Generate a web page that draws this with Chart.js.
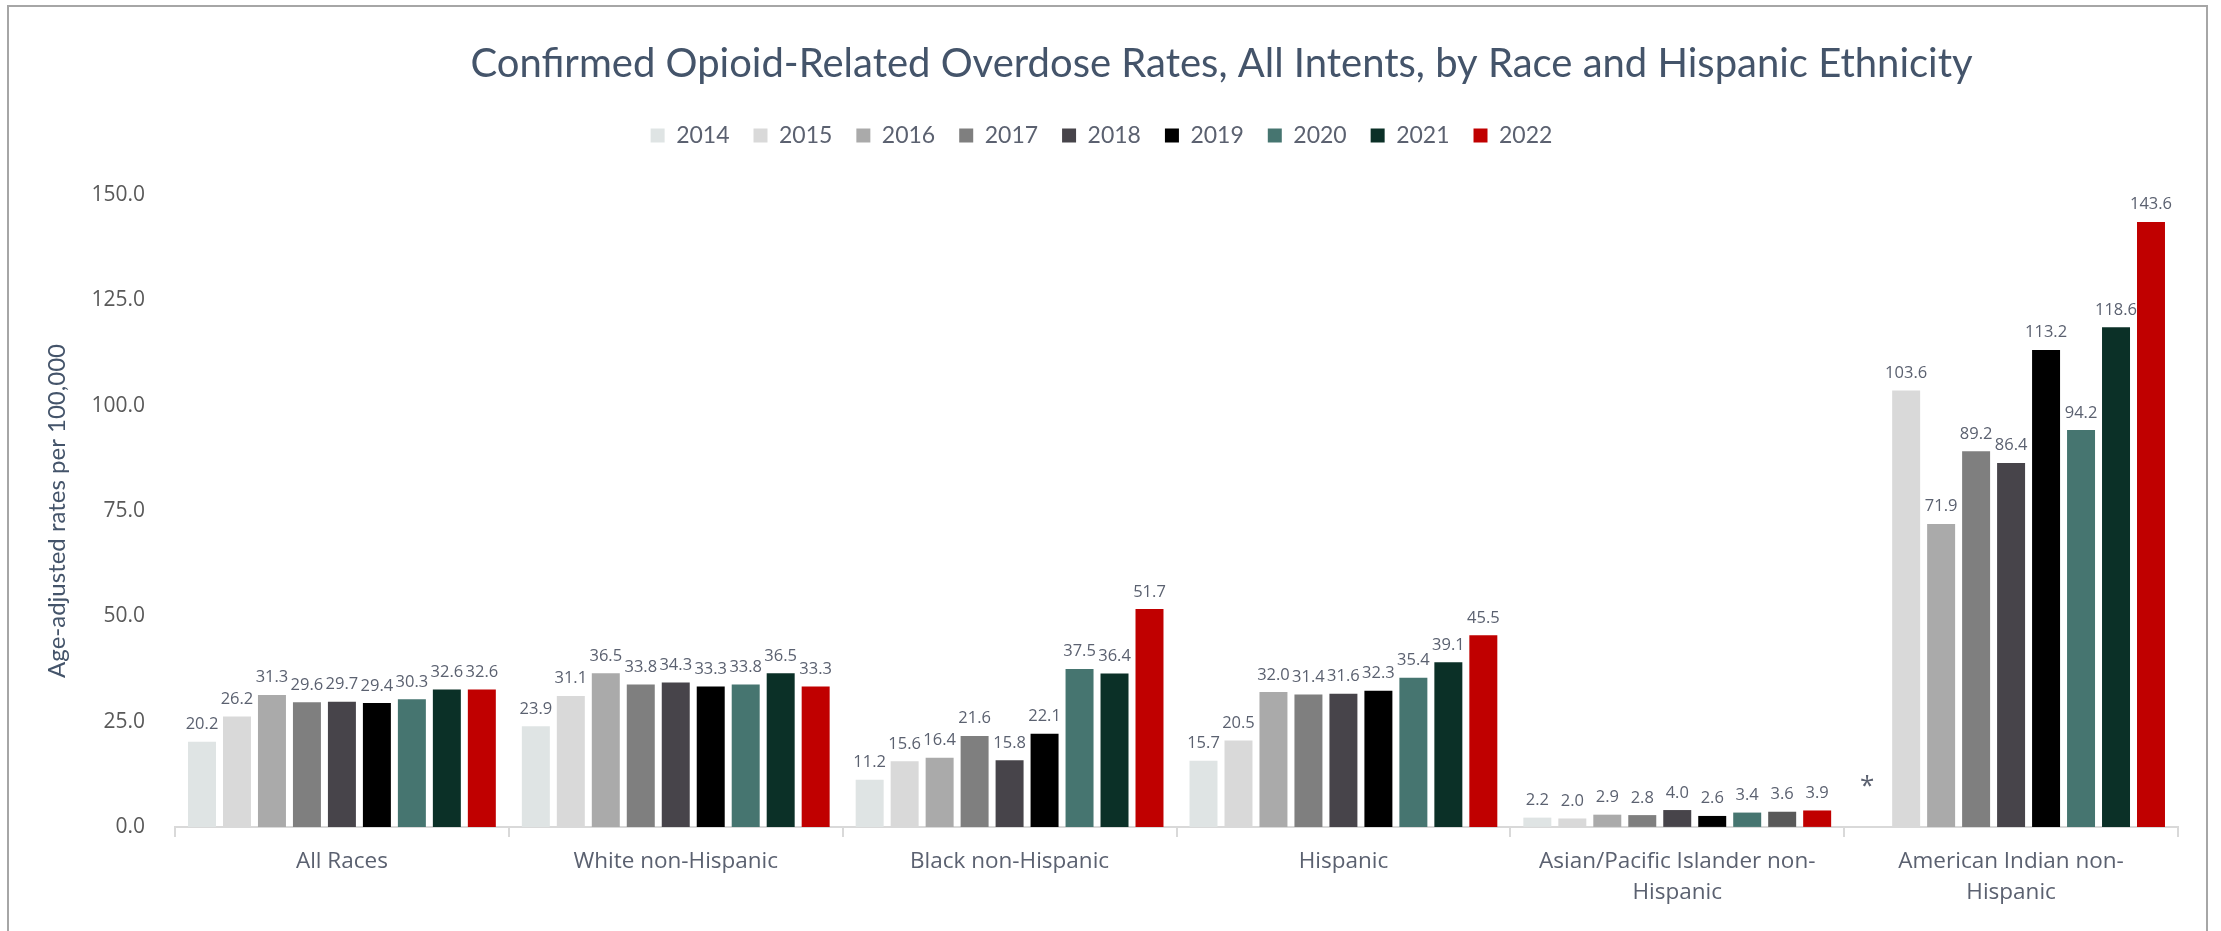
<!DOCTYPE html>
<html>
<head>
<meta charset="utf-8">
<script src="https://cdn.jsdelivr.net/npm/chart.js@4/dist/chart.umd.min.js"></script>
<style>
  html, body { margin: 0; padding: 0; background: #fff; overflow: hidden; }
  #frame {
    position: absolute; left: 7px; top: 5px; width: 2201px; height: 960px;
    border: 2px solid #a6a6a6; box-sizing: border-box;
  }
  #wrap { position: absolute; left: 0; top: 0; width: 2221px; height: 931px; }
</style>
</head>
<body>
<div id="frame"></div>
<div id="wrap"><canvas id="chartRates"></canvas></div>
<script>
// categorias (grupos de raça / etnia)
const categories = [
    'All Races',
    'White non-Hispanic',
    'Black non-Hispanic',
    'Hispanic',
    ['Asian/Pacific Islander non-', 'Hispanic'],
    ['American Indian non-', 'Hispanic']
];
const years = ['2014', '2015', '2016', '2017', '2018', '2019', '2020', '2021', '2022'];

// taxas por ano (uma entrada por categoria); null = dado suprimido (*)
const rates2014 = [20.2, 23.9, 11.2, 15.7, 2.2, null];
const rates2015 = [26.2, 31.1, 15.6, 20.5, 2.0, 103.6];
const rates2016 = [31.3, 36.5, 16.4, 32.0, 2.9, 71.9];
const rates2017 = [29.6, 33.8, 21.6, 31.4, 2.8, 89.2];
const rates2018 = [29.7, 34.3, 15.8, 31.6, 4.0, 86.4];
const rates2019 = [29.4, 33.3, 22.1, 32.3, 2.6, 113.2];
const rates2020 = [30.3, 33.8, 37.5, 35.4, 3.4, 94.2];
const rates2021 = [32.6, 36.5, 36.4, 39.1, 3.6, 118.6];
const rates2022 = [32.6, 33.3, 51.7, 45.5, 3.9, 143.6];

const yTicks = [0, 25, 50, 75, 100, 125, 150];

const yearColors = ['#dfe4e4', '#d9d9d9', '#aaaaaa', '#7f7f7f', '#47444a', '#000000', '#467570', '#595959', '#c00000'];
const darkGreen = '#0b3027'; // barras de 2021 (exceto Asian/PI)

const allRates = [rates2014, rates2015, rates2016, rates2017, rates2018, rates2019, rates2020, rates2021, rates2022];

const TEXT_GRAY = '#5b6170';
const TITLE_BLUE = '#44546a';

// titulo desenhado a mão (fica deslocado do centro como no original)
const titlePlugin = {
    id: 'titleOffset',
    afterDraw(chart) {
        const ctx = chart.ctx;
        ctx.save();
        ctx.font = "40px Lato, sans-serif";
        ctx.fillStyle = TITLE_BLUE;
        ctx.textAlign = 'center';
        ctx.textBaseline = 'middle';
        ctx.fillText('Confirmed Opioid-Related Overdose Rates, All Intents, by Race and Hispanic Ethnicity', chart.width * 0.55, 64);
        ctx.restore();
    }
};

// espaço extra abaixo da legenda
const legendGap = {
    id: 'legendGap',
    beforeInit(chart) {
        const fit = chart.legend.fit;
        chart.legend.fit = function () {
            fit.bind(chart.legend)();
            this.height += 38;
        };
    }
};

// rótulos de valor acima das barras
const valueLabels = {
    id: 'valueLabels',
    afterDatasetsDraw(chart) {
        const ctx = chart.ctx;
        const yScale = chart.scales.y;
        ctx.save();
        ctx.fillStyle = TEXT_GRAY;
        ctx.textAlign = 'center';
        chart.data.datasets.forEach(function (ds, di) {
            const meta = chart.getDatasetMeta(di);
            meta.data.forEach(function (bar, i) {
                const v = ds.data[i];
                if (v === null) {
                    ctx.font = "26px 'Open Sans', sans-serif";
                    ctx.textBaseline = 'middle';
                    ctx.fillText('*', bar.x - 4, yScale.getPixelForValue(0) - 40);
                } else {
                    ctx.font = "16.5px 'Open Sans', sans-serif";
                    ctx.textBaseline = 'bottom';
                    ctx.fillText(v.toFixed(1), bar.x, bar.y - 9);
                }
            });
        });
        ctx.restore();
    }
};

const ctxRates = document.getElementById('chartRates');
new Chart(ctxRates, {
    type: 'bar',
    data: {
        labels: categories,
        datasets: years.map(function (yr, k) {
            return {
                label: yr,
                data: allRates[k],
                backgroundColor: yr === '2021'
                    ? function (c) { return (c.type === 'data' && c.dataIndex !== 4) ? darkGreen : yearColors[k]; }
                    : yearColors[k],
                borderWidth: 0,
                barPercentage: 0.8,
                categoryPercentage: 0.943
            };
        })
    },
    options: {
        responsive: true,
        maintainAspectRatio: false,
        animation: false,
        layout: { padding: { left: 25, right: 43, top: 100, bottom: 14 } },
        plugins: {
            title: { display: false },
            tooltip: { enabled: false },
            legend: {
                position: 'top',
                labels: {
                    boxWidth: 14,
                    boxHeight: 14,
                    padding: 24,
                    color: TEXT_GRAY,
                    font: { family: 'Lato', size: 23 }
                }
            }
        },
        scales: {
            y: {
                min: 0,
                max: 150,
                afterBuildTicks: function (scale) {
                    scale.ticks = yTicks.map(function (v) { return { value: v }; });
                },
                afterFit: function (scale) { scale.width = 150; },
                grid: { display: false },
                border: { display: false },
                ticks: {
                    color: '#595959',
                    padding: 22,
                    font: { family: 'Open Sans', size: 21 },
                    callback: function (value) { return Number(value).toFixed(1); }
                },
                title: {
                    display: true,
                    text: 'Age-adjusted rates per 100,000',
                    color: TITLE_BLUE,
                    font: { family: 'Lato', size: 24 },
                    padding: { top: 18, bottom: 0 }
                }
            },
            x: {
                grid: {
                    drawOnChartArea: false,
                    color: '#d9d9d9',
                    lineWidth: 2,
                    tickLength: 10
                },
                border: { color: '#d9d9d9', width: 2 },
                ticks: {
                    color: TEXT_GRAY,
                    padding: 9,
                    maxRotation: 0,
                    font: { family: 'Open Sans', size: 22.5, lineHeight: 1.38 }
                }
            }
        }
    },
    plugins: [titlePlugin, legendGap, valueLabels]
});
</script>
</body>
</html>
